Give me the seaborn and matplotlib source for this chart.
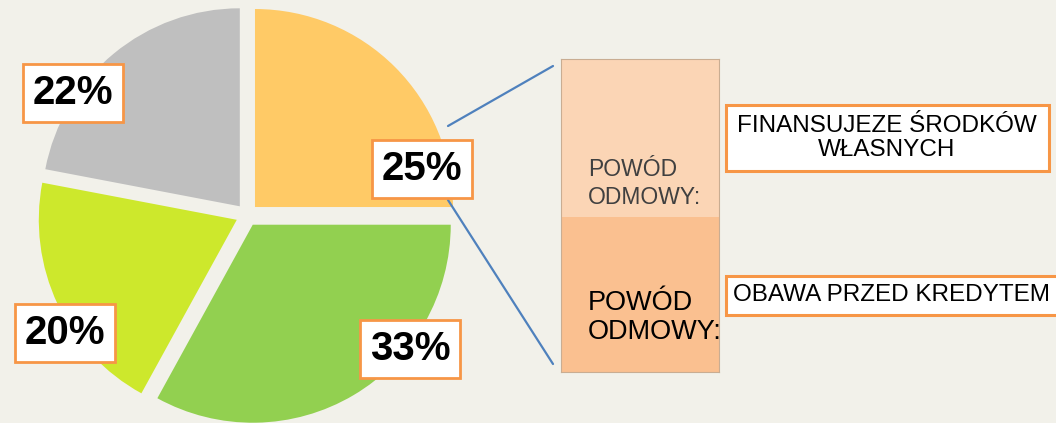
import matplotlib
matplotlib.use("Agg")
import matplotlib.pyplot as plt
import seaborn as sns
from matplotlib.patches import Rectangle

# ---------------- data ----------------
pie_labels = ["25%", "33%", "20%", "22%"]
pie_values = [25, 33, 20, 22]
pie_colors = ["#FFCA66", "#92D050", "#CDE82C", "#BFBFBF"]

bar_categories = ["OBAWA PRZED KREDYTEM", "FINANSUJEZE ŚRODKÓW\nWŁASNYCH"]  # bottom, top
bar_values = [12.4, 12.6]
bar_colors = ["#FAC090", "#FBD5B5"]
bar_series_label = "POWÓD\nODMOWY:"

# ---------------- layout ----------------
BG = "#F2F1EA"
ORANGE = "#F79646"
W, H = 1056, 423
R = 198.0            # pie radius in px
CX, CY = 247, 215    # pie centre in px (from top-left)

sns.set_theme(style="white")
plt.rcParams['font.family'] = ['Liberation Sans', 'DejaVu Sans']

fig = plt.figure(figsize=(W / 100, H / 100), dpi=100, facecolor=BG)


def px(x, y):
    """pixel (from top-left) -> pie data units"""
    return (x - CX) / R, (CY - y) / R


ax = fig.add_axes([0, 0, 1, 1])
ax.set_facecolor('none')
ax.pie(pie_values, colors=pie_colors, startangle=90, counterclock=False,
       explode=[0.057] * len(pie_values), radius=1,
       wedgeprops=dict(linewidth=0))
ax.set_xlim(-CX / R, (W - CX) / R)
ax.set_ylim(-(H - CY) / R, CY / R)
ax.set_aspect('auto')
ax.axis('off')

# connector lines (pie -> bar)
conn = [((448, 126), (553, 66)), ((448, 200), (553, 364))]
for (x0, y0), (x1, y1) in conn:
    a, b = px(x0, y0)
    c, d = px(x1, y1)
    ax.plot([a, c], [b, d], color="#4F81BD", lw=1.6, zorder=1)

# pie data labels
label_pos = [(422, 169), (410, 349), (65, 333), (73, 93)]
for lab, (x, y) in zip(pie_labels, label_pos):
    tx, ty = px(x, y)
    ax.text(tx, ty, lab, ha='center', va='center', fontsize=29,
            fontweight='bold', color='black', zorder=5,
            bbox=dict(boxstyle='square,pad=0.25', fc='white', ec=ORANGE, lw=2))

# ---------------- stacked bar ----------------
bx0, bx1, by0, by1 = 561, 719, 59, 372
axb = fig.add_axes([bx0 / W, (H - by1) / H, (bx1 - bx0) / W, (by1 - by0) / H])
total = sum(bar_values)
sns.barplot(x=["s"], y=[total], color=bar_colors[1], width=1, saturation=1,
            ax=axb, edgecolor='none', linewidth=0)
sns.barplot(x=["s"], y=[bar_values[0]], color=bar_colors[0], width=1,
            saturation=1, ax=axb, edgecolor='none', linewidth=0)
axb.set_xlim(-0.5, 0.5)
axb.set_ylim(0, total)
axb.set_xticks([])
axb.set_yticks([])
axb.set_xlabel('')
axb.set_ylabel('')
axb.set_facecolor('none')
for s in axb.spines.values():
    s.set_visible(True)
    s.set_color('#C9AD92')
    s.set_linewidth(0.8)

axb.text(0.171, 0.602, bar_series_label, transform=axb.transAxes,
         fontsize=16.5, color='#404040', ha='left', va='center', linespacing=1.3)
axb.text(0.171, 0.174, bar_series_label, transform=axb.transAxes,
         fontsize=19.5, color='black', ha='left', va='center', linespacing=1.15)

# category label boxes
boxes = [(726, 105, 1049, 171), (726, 276, 1066, 315)]
for (x0, y0, x1, y1) in boxes:
    fig.add_artist(Rectangle((x0 / W, (H - y1) / H), (x1 - x0) / W, (y1 - y0) / H,
                             transform=fig.transFigure, fc='white', ec=ORANGE,
                             lw=2.2, zorder=3))
fig.text(887 / W, (H - 138) / H, bar_categories[1], ha='center', va='center',
         fontsize=17.5, color='black', linespacing=1.15, zorder=4)
fig.text(733 / W, (H - 295) / H, bar_categories[0], ha='left', va='center',
         fontsize=17.5, color='black', zorder=4)

fig.savefig("out.png", dpi=100, facecolor=BG)
